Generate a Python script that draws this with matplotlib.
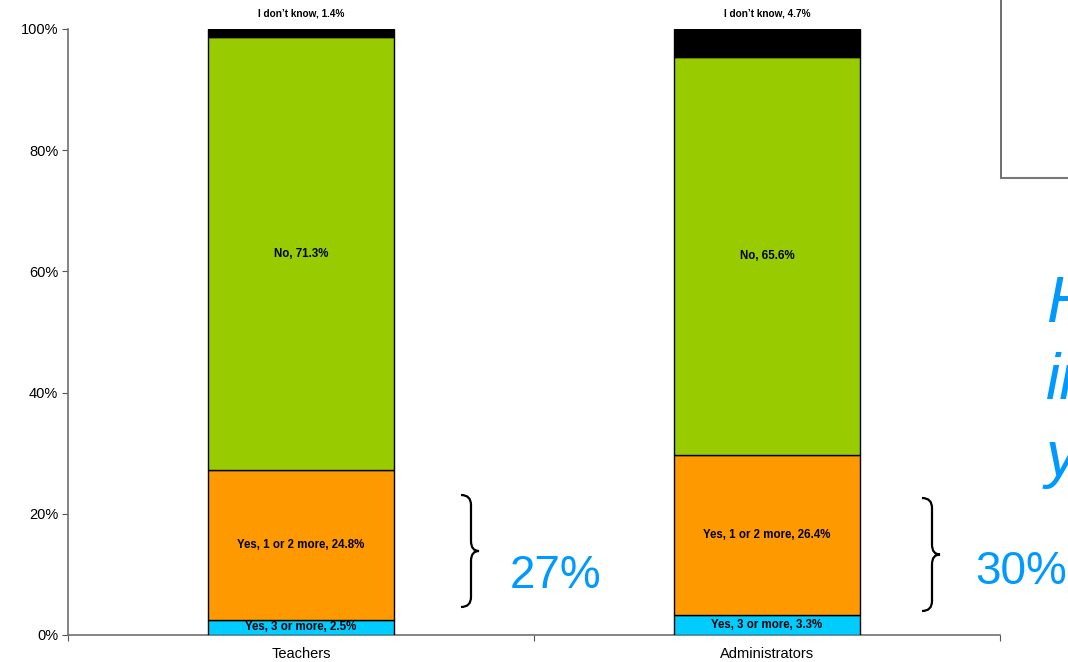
import matplotlib
matplotlib.use("Agg")
import matplotlib.pyplot as plt
from matplotlib.path import Path
from matplotlib.patches import PathPatch
from matplotlib.lines import Line2D
import numpy as np

plt.rcParams['font.family'] = ['Liberation Sans', 'DejaVu Sans']

categories = ['Teachers', 'Administrators']
series_names = ['Yes, 3 or more', 'Yes, 1 or 2 more', 'No', "I don't know"]
yes3 = [2.5, 3.3]
yes12 = [24.8, 26.4]
no = [71.3, 65.6]
idk = [1.4, 4.7]
brace_totals = ['27%', '30%']
yticks = [0, 20, 40, 60, 80, 100]

colors = ['#00CCFF', '#FF9900', '#99CC00', '#000000']

W, H = 1068, 662
fig = plt.figure(figsize=(W / 100, H / 100), dpi=100)
ax = fig.add_axes([68 / W, 1 - 635 / H, (1000 - 68) / W, (635 - 29) / H])

x = np.arange(len(categories)) + 0.5
width = 0.4
bottom = np.zeros(len(categories))
series = [yes3, yes12, no, idk]
label_txt = ["Yes, 3 or more", "Yes, 1 or 2 more", "No", "I don\u2019t know"]
for vals, col, lab in zip(series, colors, label_txt):
    vals = np.array(vals)
    bars = ax.bar(x, vals, width, bottom=bottom, color=col, edgecolor='black',
                  linewidth=1.0, zorder=3)
    for xi, b, v in zip(x, bottom, vals):
        txt = f"{lab}, {v:.1f}%"
        if lab.startswith("I don"):
            ax.annotate(txt, (xi, b + v), xytext=(0, 15), textcoords='offset pixels',
                        ha='center', va='center', fontsize=7.2, fontweight='bold')
        else:
            ax.text(xi, b + v / 2, txt, ha='center', va='center', fontsize=8.3,
                    fontweight='bold', color='black', zorder=4)
    bottom = bottom + vals

ax.set_xlim(0, 2)
ax.set_ylim(0, 100)
ax.set_yticks(yticks)
ax.set_yticklabels([f"{t}%" for t in yticks])
ax.set_xticks([0, 1, 2])
ax.set_xticklabels([])
ax.set_xticks(x, minor=True)
ax.set_xticklabels(categories, minor=True)
ax.tick_params(axis='x', which='minor', length=0, pad=9, labelsize=10.5)
ax.tick_params(axis='x', which='major', length=4, direction='out', color='#555555')
ax.tick_params(axis='y', length=4, direction='out', labelsize=10.5, pad=3, color='#555555')
for s in ['top', 'right']:
    ax.spines[s].set_visible(False)
for s in ['left', 'bottom']:
    ax.spines[s].set_color('#707070')
    ax.spines[s].set_linewidth(1.2)


def fx(px):
    return px / W


def fy(py):
    return 1 - py / H


def brace(x0, ytop, ybot, stem=10, tip=8, r=10):
    xm = x0 + stem
    xt = xm + tip
    ym = (ytop + ybot) / 2
    pts = [(x0, ytop), (xm, ytop), (xm, ytop + r),
           (xm, ym - r), (xm, ym), (xt, ym),
           (xm, ym), (xm, ym + r),
           (xm, ybot - r), (xm, ybot), (x0, ybot)]
    codes = [Path.MOVETO, Path.CURVE3, Path.CURVE3,
             Path.LINETO, Path.CURVE3, Path.CURVE3,
             Path.CURVE3, Path.CURVE3,
             Path.LINETO, Path.CURVE3, Path.CURVE3]
    verts = [(fx(a), fy(b)) for a, b in pts]
    p = PathPatch(Path(verts, codes), transform=fig.transFigure, fill=False,
                  edgecolor='black', linewidth=1.6)
    fig.add_artist(p)


brace(461, 495, 607)
brace(922, 498, 611)

blue = '#0099FF'
fig.text(fx(510), fy(588), brace_totals[0], color=blue, fontsize=33, ha='left', va='baseline')
fig.text(fx(975), fy(584), brace_totals[1], color=blue, fontsize=33, ha='left', va='baseline')

for line, base in zip(['H', 'in', 'y'], [322, 399, 476]):
    fig.text(fx(1046), fy(base), line, color=blue, fontsize=46, style='italic',
             ha='left', va='baseline')

# box outline at top right
fig.add_artist(Line2D([fx(1001), fx(1001)], [fy(0), fy(178)], transform=fig.transFigure,
                      color='#555555', linewidth=1.2))
fig.add_artist(Line2D([fx(1001), fx(1068)], [fy(178), fy(178)], transform=fig.transFigure,
                      color='#777777', linewidth=1.5))

fig.savefig('out.png', dpi=100)
